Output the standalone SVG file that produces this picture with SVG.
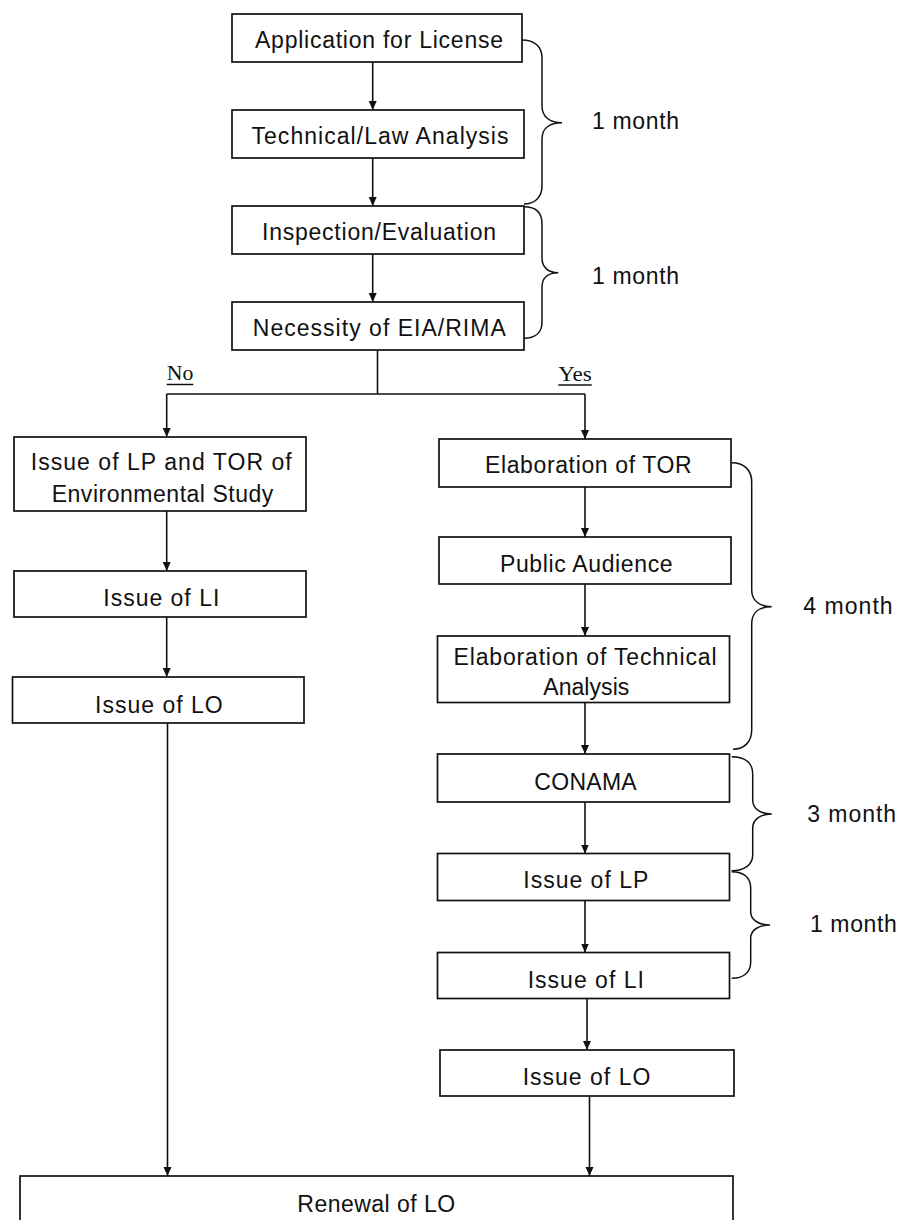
<svg xmlns="http://www.w3.org/2000/svg" width="901" height="1220" viewBox="0 0 901 1220">
<style>
.box{fill:#fff;stroke:#111;stroke-width:1.7}
.t{font-family:"Liberation Sans",Arial,sans-serif;font-size:23px;fill:#111;text-anchor:middle}
.tl{font-family:"Liberation Sans",Arial,sans-serif;font-size:23px;fill:#111}
.lab{font-family:"Liberation Serif","Times New Roman",serif;font-size:21px;fill:#111}
.ln{fill:none;stroke:#111;stroke-width:1.6}
.arr{fill:none;stroke:#111;stroke-width:1.6;marker-end:url(#ah)}
.br{fill:none;stroke:#111;stroke-width:1.5}
</style>
<defs>
<marker id="ah" markerUnits="userSpaceOnUse" markerWidth="10" markerHeight="10" refX="9" refY="4" orient="auto">
<path d="M0,0 L9,4 L0,8 z" fill="#111"/>
</marker>
</defs>
<rect width="901" height="1220" fill="#fff"/>

<g id="connectors">
<line class="arr" x1="372.7" y1="62" x2="372.7" y2="110"/>
<line class="arr" x1="372.7" y1="158" x2="372.7" y2="206"/>
<line class="arr" x1="372.7" y1="254" x2="372.7" y2="302"/>
<polyline class="ln" points="377.5,350 377.5,394"/>
<polyline class="ln" points="166.7,394 585,394"/>
<line class="arr" x1="166.7" y1="394" x2="166.7" y2="437"/>
<line class="arr" x1="585" y1="394" x2="585" y2="439"/>
<line class="arr" x1="166.7" y1="511" x2="166.7" y2="571"/>
<line class="arr" x1="166.7" y1="617" x2="166.7" y2="677"/>
<line class="arr" x1="167.5" y1="723" x2="167.5" y2="1176"/>
<line class="arr" x1="585" y1="487" x2="585" y2="537"/>
<line class="arr" x1="585" y1="584" x2="585" y2="636"/>
<line class="arr" x1="585" y1="702.5" x2="585" y2="754"/>
<line class="arr" x1="585" y1="802" x2="585" y2="853.5"/>
<line class="arr" x1="585" y1="900.5" x2="585" y2="952.5"/>
<line class="arr" x1="587" y1="998.5" x2="587" y2="1050"/>
<line class="arr" x1="589.5" y1="1096" x2="589.5" y2="1176"/>
</g>

<g id="labels">
<text class="lab" x="166.7" y="380" textLength="26.6" lengthAdjust="spacingAndGlyphs">No</text>
<line x1="166.7" y1="384.5" x2="193.3" y2="384.5" stroke="#111" stroke-width="1.5"/>
<text class="lab" x="558.3" y="380.7" textLength="33.4" lengthAdjust="spacingAndGlyphs">Yes</text>
<line x1="558.3" y1="385" x2="591.7" y2="385" stroke="#111" stroke-width="1.5"/>
</g>

<g id="braces">
<path class="br" d="M522,40 C534,40 542,46 542,58 L542,106 C542,117 550,122.7 562,122.7 C550,122.7 542,128 542,139 L542,186 C542,198 534,204 524,204"/>
<path class="br" d="M524,206.7 C536,206.7 542,212 542,224 L542,258 C542,268 549,272.7 558.3,272.7 C549,272.7 542,277 542,287 L542,322 C542,333 535,338.3 524,338.3"/>
<path class="br" d="M731.7,462.7 C744,462.7 751.7,470 751.7,482 L751.7,590 C751.7,601 760,606.7 771.7,606.7 C760,606.7 751.7,612 751.7,624 L751.7,730 C751.7,742 744,749.3 733,749.3"/>
<path class="br" d="M731.7,756.7 C744,756.7 752.7,762 752.7,774 L752.7,800 C752.7,809 761,814 771.7,814 C761,814 752.7,819 752.7,828 L752.7,855 C752.7,865 744,870.7 731.7,870.7"/>
<path class="br" d="M731.7,871.7 C743,871.7 750.7,877 750.7,888 L750.7,912 C750.7,920 759,925 770,925 C759,925 750.7,930 750.7,938 L750.7,962 C750.7,973 743,978.3 731.7,978.3"/>
<text class="tl" x="592" y="128.5" textLength="87" lengthAdjust="spacing">1 month</text>
<text class="tl" x="592" y="283.5" textLength="87" lengthAdjust="spacing">1 month</text>
<text class="tl" x="803.3" y="614" textLength="89.3" lengthAdjust="spacing">4 month</text>
<text class="tl" x="807.3" y="821.7" textLength="88.7" lengthAdjust="spacing">3 month</text>
<text class="tl" x="810" y="931.7" textLength="86.7" lengthAdjust="spacing">1 month</text>
</g>

<g id="n1"><rect class="box" x="232" y="14" width="290" height="48"/><text class="t" x="379" y="48" textLength="248" lengthAdjust="spacing">Application for License</text></g>
<g id="n2"><rect class="box" x="232" y="110" width="292" height="48"/><text class="t" x="380" y="144" textLength="257" lengthAdjust="spacing">Technical/Law Analysis</text></g>
<g id="n3"><rect class="box" x="232" y="206" width="292" height="48"/><text class="t" x="379" y="240" textLength="234" lengthAdjust="spacing">Inspection/Evaluation</text></g>
<g id="n4"><rect class="box" x="232" y="302" width="292" height="48"/><text class="t" x="379.3" y="336" textLength="253" lengthAdjust="spacing">Necessity of EIA/RIMA</text></g>

<g id="n5"><rect class="box" x="14" y="437" width="292" height="74"/><text class="t" x="161.2" y="470" textLength="261" lengthAdjust="spacing">Issue of LP and TOR of</text><text class="t" x="162.5" y="501.7" textLength="221.6" lengthAdjust="spacing">Environmental Study</text></g>
<g id="n6"><rect class="box" x="14" y="571" width="292" height="46"/><text class="t" x="161.3" y="605.7" textLength="116" lengthAdjust="spacing">Issue of LI</text></g>
<g id="n7"><rect class="box" x="12.5" y="677" width="291.5" height="46"/><text class="t" x="158.9" y="713.3" textLength="127.7" lengthAdjust="spacing">Issue of LO</text></g>

<g id="r1"><rect class="box" x="439" y="439" width="292" height="48"/><text class="t" x="588.3" y="473" textLength="206.7" lengthAdjust="spacing">Elaboration of TOR</text></g>
<g id="r2"><rect class="box" x="439" y="537" width="292" height="47"/><text class="t" x="586.3" y="571.7" textLength="172.7" lengthAdjust="spacing">Public Audience</text></g>
<g id="r3"><rect class="box" x="437.5" y="636" width="292" height="66.5"/><text class="t" x="585" y="665" textLength="263" lengthAdjust="spacing">Elaboration of Technical</text><text class="t" x="586.3" y="695" textLength="86" lengthAdjust="spacing">Analysis</text></g>
<g id="r4"><rect class="box" x="437.5" y="754" width="292" height="48"/><text class="t" x="585.5" y="790" textLength="102.4" lengthAdjust="spacing">CONAMA</text></g>
<g id="r5"><rect class="box" x="437.5" y="853.5" width="292" height="47"/><text class="t" x="585.8" y="888.3" textLength="125" lengthAdjust="spacing">Issue of LP</text></g>
<g id="r6"><rect class="box" x="437.5" y="952.5" width="292" height="46"/><text class="t" x="585.8" y="988.3" textLength="116.3" lengthAdjust="spacing">Issue of LI</text></g>
<g id="r7"><rect class="box" x="440" y="1050" width="294" height="46"/><text class="t" x="586.5" y="1085" textLength="127.7" lengthAdjust="spacing">Issue of LO</text></g>

<g id="renewal"><rect class="box" x="20" y="1176" width="713" height="70"/><text class="t" x="376.2" y="1211.7" textLength="157.7" lengthAdjust="spacing">Renewal of LO</text></g>
</svg>
